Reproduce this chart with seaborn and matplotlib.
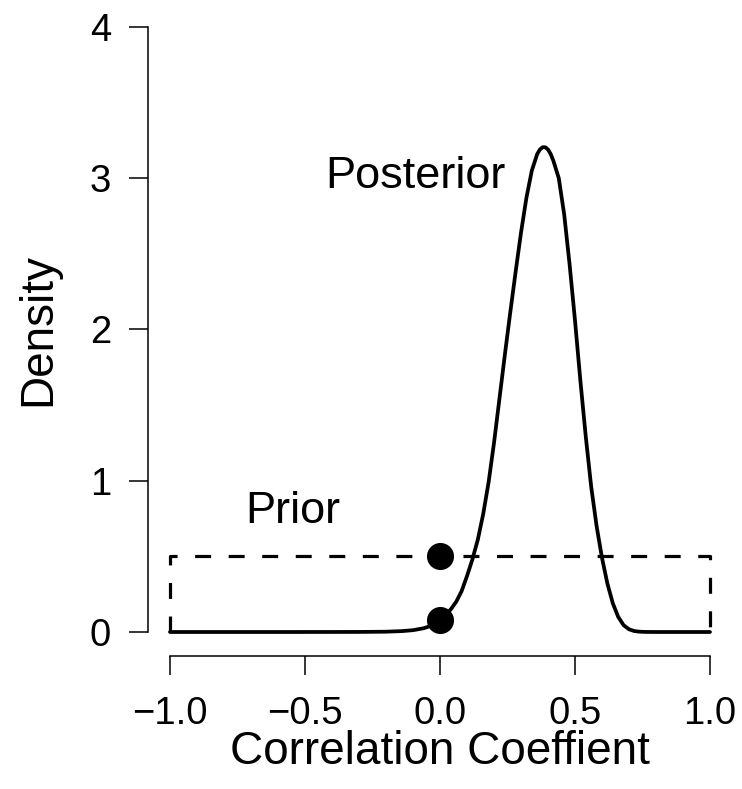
import matplotlib
matplotlib.use("Agg")
import matplotlib.pyplot as plt
import seaborn as sns
import pandas as pd

# ---- data ----
post_x = [-1.0, -0.6, -0.4, -0.3, -0.2, -0.14, -0.1, -0.06, -0.04, -0.02, 0.0,
          0.02, 0.04, 0.06, 0.08, 0.10, 0.12, 0.14, 0.16, 0.18, 0.20, 0.22,
          0.24, 0.26, 0.28, 0.30, 0.32, 0.34, 0.36, 0.37, 0.38, 0.39, 0.40,
          0.41, 0.42, 0.44, 0.46, 0.48, 0.50, 0.52, 0.54, 0.56, 0.58, 0.60,
          0.62, 0.64, 0.66, 0.68, 0.70, 0.72, 0.74, 0.76, 0.80, 1.0]
post_y = [0.0, 0.0, 0.0002, 0.0005, 0.002, 0.006, 0.012, 0.025, 0.037, 0.055, 0.08,
          0.11, 0.15, 0.20, 0.27, 0.37, 0.48, 0.61, 0.78, 0.99, 1.25, 1.54,
          1.83, 2.11, 2.38, 2.64, 2.87, 3.05, 3.16, 3.19, 3.205, 3.205, 3.19,
          3.16, 3.115, 3.00, 2.76, 2.43, 2.06, 1.66, 1.29, 0.96, 0.70, 0.49,
          0.32, 0.19, 0.10, 0.045, 0.018, 0.006, 0.002, 0.0005, 0.0, 0.0]
prior_x = [-1.0, -1.0, 1.0, 1.0]
prior_y = [0.0, 0.5, 0.5, 0.0]
point_x = [0.0, 0.0]
point_y = [0.5, 0.08]
x_ticks = [-1.0, -0.5, 0.0, 0.5, 1.0]
x_tick_labels = ["\u22121.0", "\u22120.5", "0.0", "0.5", "1.0"]
y_ticks = [0, 1, 2, 3, 4]
y_tick_labels = ["0", "1", "2", "3", "4"]

post_df = pd.DataFrame({"x": post_x, "y": post_y})
prior_df = pd.DataFrame({"x": prior_x, "y": prior_y})
pts_df = pd.DataFrame({"x": point_x, "y": point_y})

sns.set_theme(style="ticks")
plt.rcParams["font.family"] = ["Liberation Sans", "DejaVu Sans"]
plt.rcParams["text.color"] = "black"
plt.rcParams["axes.labelcolor"] = "black"

W, H = 742, 789
fig = plt.figure(figsize=(W / 100, H / 100), dpi=100)
ax_l, ax_r, ax_t, ax_b = 148.4, 731.6, 2.8, 656.2
ax = fig.add_axes([ax_l / W, 1 - ax_b / H, (ax_r - ax_l) / W, (ax_b - ax_t) / H])

sns.lineplot(data=post_df, x="x", y="y", ax=ax, color="black", lw=2.7,
             estimator=None, sort=False)
sns.lineplot(data=prior_df, x="x", y="y", ax=ax, color="black", lw=2.3,
             estimator=None, sort=False, dashes=False)
ax.lines[-1].set_dashes((5, 5.5))
sns.scatterplot(data=pts_df, x="x", y="y", ax=ax, color="black", s=380,
                edgecolor="black", linewidth=0, zorder=5)

ax.text(-0.09, 2.934, "Posterior", ha="center", va="baseline", fontsize=32.5,
        color="black")
ax.text(-0.546, 0.7226, "Prior", ha="center", va="baseline", fontsize=32.5,
        color="black")

ax.set_xlim(-1.08, 1.08)
ax.set_ylim(-0.16, 4.16)
ax.set_xticks(x_ticks)
ax.set_xticklabels(x_tick_labels)
ax.set_yticks(y_ticks)
ax.set_yticklabels(y_tick_labels)

for s in ["top", "right"]:
    ax.spines[s].set_visible(False)
ax.spines["left"].set_bounds(0, 4)
ax.spines["bottom"].set_bounds(-1, 1)
for s in ["left", "bottom"]:
    ax.spines[s].set_linewidth(1.1)
    ax.spines[s].set_color("black")

ax.tick_params(axis="both", direction="out", length=13.5, width=1.1,
               color="black", labelsize=27.5, labelcolor="black")
ax.tick_params(axis="x", pad=15.3)
ax.tick_params(axis="y", pad=13.5)

ax.set_xlabel("Correlation Coeffient", fontsize=33, color="black")
ax.set_ylabel("Density", fontsize=33, color="black")
axw = ax_r - ax_l
axh = ax_b - ax_t
ax.xaxis.set_label_coords(0.5, (ax_b - 729.5) / axh)
ax.yaxis.set_label_coords((60 - ax_l) / axw, 0.5)

ax.set_facecolor("white")
fig.patch.set_facecolor("white")
fig.savefig("out.png", dpi=100)
